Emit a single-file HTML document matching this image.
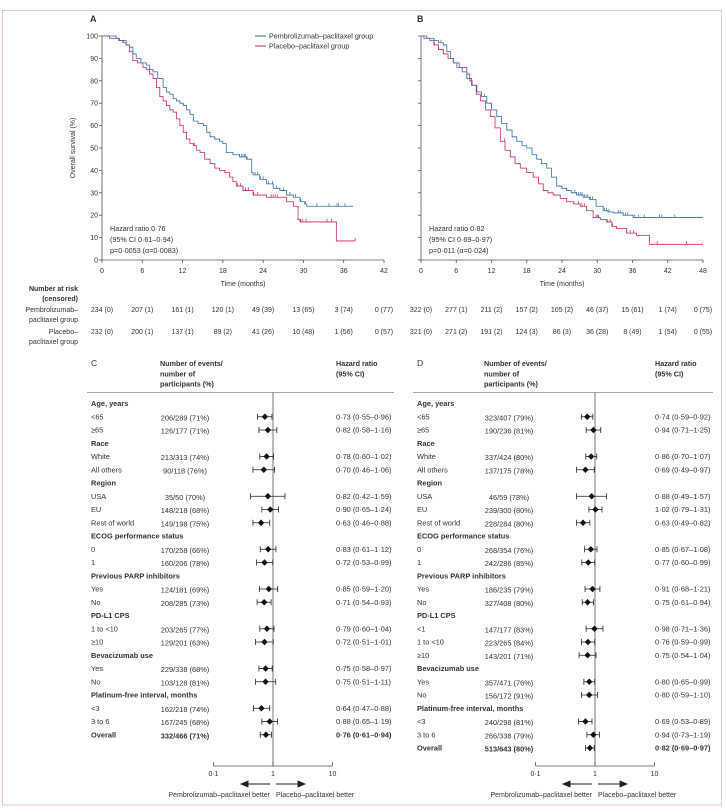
<!DOCTYPE html>
<html><head><meta charset="utf-8"><style>
html,body{margin:0;padding:0;background:#fff;}
svg{display:block;font-family:"Liberation Sans",sans-serif;}
text{fill:#333;}
.b{font-weight:bold;}
</style></head><body>
<svg id="fig" width="726" height="812" viewBox="0 0 726 812" xmlns="http://www.w3.org/2000/svg">
<rect x="2.5" y="10.5" width="719" height="794.5" fill="none" stroke="#e6c6d2" stroke-width="1"/>
<g id="kmA"></g>
<g id="kmB"></g>
<g id="risk"></g>
<g id="fC"></g>
<g id="fD"></g>
</svg>
<script>
// ---------- KM data ----------
const kmA_blue_t = [0,1.5,2.1,2.6,3.1,3.6,4.1,4.6,5.1,5.8,6.6,7.1,7.6,8.3,9.1,9.6,10.1,10.6,11.1,11.6,12.1,12.6,13.1,13.6,14.3,15.1,15.6,16.1,16.8,17.5,18.0,18.5,19.5,20.5,21.5,22.3,22.5,23.5,24.5,25.5,26.5,27.5,28.5,29.5,30.2,30.5,37.4];
const kmA_blue_s = [100,100,99,98,97,96,95,92,90,88,87,85,84,81,77,75,74,72,71,70,69,67,65,62,61,60,57,55,54,53,52,48,47,46,45,39,38,36,34,32,31,29,28,26,25,24,24];
const kmA_red_t = [0,1.1,2.5,3.6,4.1,4.6,5.3,6.1,6.6,7.1,7.6,8.1,8.6,9.1,9.6,10.1,10.6,11.1,11.6,12.1,12.6,13.1,13.6,14.1,14.6,15.3,16.1,16.8,17.5,18.3,19.0,19.5,20.0,21.0,22.5,24.5,27.5,28.5,29.2,29.5,34.9,37.7];
const kmA_red_s = [100,99,98,96,93,89,88,86,85,83,81,77,73,71,69,67,66,63,60,57,54,52,51,49,48,45,43,41,40,39,37,35,33,31,29,28,26,24,18,17,8.5,8.5];
const kmA_blue_cens = [3.2,20.5,20.8,21.0,21.2,21.4,21.6,22.8,23.2,23.6,24.0,24.8,25.4,26.0,27.0,28.0,28.8,29.6,30.3,32.0,33.8,35.0,35.2,36.2];
const kmA_red_cens = [13.8,20.2,20.6,21.0,21.4,21.8,22.6,23.2,25.2,25.5,25.8,26.1,29.6,29.9,30.4,33.5,34.2,37.7];
const kmB_blue_t = [0,1,2.2,3,3.8,4.4,5,5.5,6.1,7,7.8,8.6,9.5,10.3,11.2,12,12.9,13.7,14.6,15.5,16.3,17.2,18,18.9,19.7,20.5,21.4,22.2,23.1,24,24.8,25.6,26.5,27.6,28.7,29.8,31,31.8,32.7,34.4,36.1,48];
const kmB_blue_s = [100,99,98,97,96,93,90,88,86,84,81,78,75,73,70,67,64,61,58,55,53,51,50,47,45,43,41,37,33,32,31,30,29,28,27,24,22,21.5,21,20,19,19];
const kmB_red_t = [0,0.5,1.5,2.2,3,3.8,4.6,5.5,6.5,7.8,8.3,8.7,9.4,10.1,11,11.8,12.6,13.5,14.3,15.2,16,16.9,18,19.1,20,20.8,21.6,22.5,23.7,24.8,26,27.1,28.2,29.3,30.5,31.6,32.5,33.3,35,36.7,38.9,48];
const kmB_red_s = [100,99,98,96,94,92,90,88,86,83,80,78,74,71,67,64,59,53,49,46,43,41,39,37,34,31,30,29,27.5,26,25,24,22,19,18,17,15,14,12,11,7,7];
const kmB_blue_cens = [3.4,10.8,26.2,26.5,26.8,27.1,27.4,27.8,28.1,28.4,28.8,29.2,31.2,31.6,32.0,33.6,34.0,34.4,34.8,35.2,36.4,37.0,38.0,40.6,41.0,43.2];
const kmB_red_cens = [2.3,3.0,14.2,26.8,27.4,27.8,29.8,30.0,30.2,31.8,32.2,32.6,35.0,35.6,36.2,40.2,45.2];
const tickA = [0,6,12,18,24,30,36,42];
const tickB = [0,6,12,18,24,30,36,42,48];
const yTicks = [0,10,20,30,40,50,60,70,80,90,100];
const riskA_pem = ["234 (0)","207 (1)","161 (1)","120 (1)","49 (39)","13 (65)","3 (74)","0 (77)"];
const riskA_pla = ["232 (0)","200 (1)","137 (1)","89 (2)","41 (26)","10 (48)","1 (56)","0 (57)"];
const riskB_pem = ["322 (0)","277 (1)","211 (2)","157 (2)","105 (2)","46 (37)","15 (61)","1 (74)","0 (75)"];
const riskB_pla = ["321 (0)","271 (2)","191 (2)","124 (3)","86 (3)","36 (28)","8 (49)","1 (54)","0 (55)"];

// ---------- Forest data ----------
const fC_labels = ["Age, years","<65","≥65","Race","White","All others","Region","USA","EU","Rest of world","ECOG performance status","0","1","Previous PARP inhibitors","Yes","No","PD-L1 CPS","1 to <10","≥10","Bevacizumab use","Yes","No","Platinum-free interval, months","<3","3 to 6","Overall"];
const fC_counts = ["","206/289 (71%)","126/177 (71%)","","213/313 (74%)","90/118 (76%)","","35/50 (70%)","148/218 (68%)","149/198 (75%)","","170/258 (66%)","160/206 (78%)","","124/181 (69%)","208/285 (73%)","","203/265 (77%)","129/201 (63%)","","229/338 (68%)","103/128 (81%)","","162/218 (74%)","167/245 (68%)","332/466 (71%)"];
const fC_hr = [null,0.73,0.82,null,0.78,0.70,null,0.82,0.90,0.63,null,0.83,0.72,null,0.85,0.71,null,0.79,0.72,null,0.75,0.75,null,0.64,0.88,0.76];
const fC_lo = [null,0.55,0.58,null,0.60,0.46,null,0.42,0.65,0.46,null,0.61,0.53,null,0.59,0.54,null,0.60,0.51,null,0.58,0.51,null,0.47,0.65,0.61];
const fC_hi = [null,0.96,1.16,null,1.02,1.06,null,1.59,1.24,0.88,null,1.12,0.99,null,1.20,0.93,null,1.04,1.01,null,0.97,1.11,null,0.88,1.19,0.94];
const fD_labels = ["Age, years","<65","≥65","Race","White","All others","Region","USA","EU","Rest of world","ECOG performance status","0","1","Previous PARP inhibitors","Yes","No","PD-L1 CPS","<1","1 to <10","≥10","Bevacizumab use","Yes","No","Platinum-free interval, months","<3","3 to 6","Overall"];
const fD_counts = ["","323/407 (79%)","190/236 (81%)","","337/424 (80%)","137/175 (78%)","","46/59 (78%)","239/300 (80%)","228/284 (80%)","","268/354 (76%)","242/286 (85%)","","186/235 (79%)","327/408 (80%)","","147/177 (83%)","223/265 (84%)","143/201 (71%)","","357/471 (76%)","156/172 (91%)","","240/298 (81%)","266/338 (79%)","513/643 (80%)"];
const fD_hr = [null,0.74,0.94,null,0.86,0.69,null,0.88,1.02,0.63,null,0.85,0.77,null,0.91,0.75,null,0.98,0.76,0.75,null,0.80,0.80,null,0.69,0.94,0.82];
const fD_lo = [null,0.59,0.71,null,0.70,0.49,null,0.49,0.79,0.49,null,0.67,0.60,null,0.68,0.61,null,0.71,0.59,0.54,null,0.65,0.59,null,0.53,0.73,0.69];
const fD_hi = [null,0.92,1.25,null,1.07,0.97,null,1.57,1.31,0.82,null,1.08,0.99,null,1.21,0.94,null,1.36,0.99,1.04,null,0.99,1.10,null,0.89,1.19,0.97];
const forestTicks = [0.1,1,10];

const NS = "http://www.w3.org/2000/svg";
function mk(parent, tag, attrs, txt){
  const e = document.createElementNS(NS, tag);
  for (const k in attrs) e.setAttribute(k, attrs[k]);
  if (txt !== undefined) e.textContent = txt;
  parent.appendChild(e);
  return e;
}
const BLUE = "#2f6fa8", RED = "#c42a62", GRAY = "#555";
function fmt(v){ return v.toFixed(2).replace('.', '·'); }

function stepPath(t, s, X, Y){
  let d = "M" + X(t[0]) + "," + Y(s[0]);
  for (let i = 1; i < t.length; i++){
    d += " H" + X(t[i]) + " V" + Y(s[i]);
  }
  return d;
}
function survAt(t, s, tt){
  let v = s[0];
  for (let i = 0; i < t.length; i++){ if (t[i] <= tt) v = s[i]; }
  return v;
}

function drawKM(g, x0, x1, tmax, ticks, bt, bs, rt, rs, bc, rc, showY, letter, hr){
  const y0 = 260, y100 = 36;
  const X = v => x0 + v/tmax*(x1-x0);
  const Y = v => y0 - v/100*(y0-y100);
  let e;
  e = mk(g,'text',{x:showY?x0-12:x0-4,y:22,'font-size':9,'class':'b'},letter);
  
  
  e = mk(g,'line',{x1:x0,y1:y0,x2:x1,y2:y0,stroke:GRAY,'stroke-width':0.8});
  
  
  e = mk(g,'line',{x1:x0,y1:y0,x2:x0,y2:y100,stroke:GRAY,'stroke-width':0.8});
  
  
  ticks.forEach(tk=>{
    mk(g,'line',{x1:X(tk),y1:y0,x2:X(tk),y2:y0+3,stroke:GRAY,'stroke-width':0.8});
    e = mk(g,'text',{x:X(tk),y:273,'font-size':7,'text-anchor':'middle'},String(tk));
    
    
  });
  yTicks.forEach(tk=>{
    mk(g,'line',{x1:x0-3,y1:Y(tk),x2:x0,y2:Y(tk),stroke:GRAY,'stroke-width':0.8});
    if (showY){
      e = mk(g,'text',{x:x0-4,y:Y(tk)+2.5,'font-size':7,'text-anchor':'end'},String(tk));
      
      
    }
  });
  e = mk(g,'text',{x:(x0+x1)/2,y:286,'font-size':7,'text-anchor':'middle'},'Time (months)');
  
  
  if (showY){
    e = mk(g,'text',{x:0,y:0,'font-size':7,'text-anchor':'middle',transform:'translate(75,'+((y0+y100)/2)+') rotate(-90)'},'Overall survival (%)');
    
    
  }
  e = mk(g,'path',{d:stepPath(rt,rs,X,Y),fill:'none',stroke:RED,'stroke-width':0.8});
  
  
  e = mk(g,'path',{d:stepPath(bt,bs,X,Y),fill:'none',stroke:BLUE,'stroke-width':0.8});
  
  
  bc.forEach(c=>{
    const yy = Y(survAt(bt,bs,c));
    e = mk(g,'line',{x1:X(c),y1:yy-3,x2:X(c),y2:yy,stroke:BLUE,'stroke-width':0.7});
    
    
  });
  rc.forEach(c=>{
    const yy = Y(survAt(rt,rs,c));
    e = mk(g,'line',{x1:X(c),y1:yy-3,x2:X(c),y2:yy,stroke:RED,'stroke-width':0.7});
    
    
  });
  hr.forEach((l,i)=>{
    e = mk(g,'text',{x:x0+8,y:231+i*11,'font-size':7.2},l);
    
    
  });
  return X;
}

const XA = drawKM(document.getElementById('kmA'),102,384,42,tickA,kmA_blue_t,kmA_blue_s,kmA_red_t,kmA_red_s,kmA_blue_cens,kmA_red_cens,true,'A',
  ['Hazard ratio 0·76','(95% CI 0·61–0·94)','p=0·0053 (α=0·0083)']);
const XB = drawKM(document.getElementById('kmB'),421,703,48,tickB,kmB_blue_t,kmB_blue_s,kmB_red_t,kmB_red_s,kmB_blue_cens,kmB_red_cens,false,'B',
  ['Hazard ratio 0·82','(95% CI 0·69–0·97)','p=0·011 (α=0·024)']);

// legend
(function(){
  const g = document.getElementById('kmA');
  let e;
  e = mk(g,'line',{x1:255,y1:36,x2:266,y2:36,stroke:BLUE,'stroke-width':1});
  
  
  e = mk(g,'text',{x:269,y:38.5,'font-size':7.2},'Pembrolizumab–paclitaxel group');
  
  
  e = mk(g,'line',{x1:255,y1:46,x2:266,y2:46,stroke:RED,'stroke-width':1});
  
  
  e = mk(g,'text',{x:269,y:48.5,'font-size':7.2},'Placebo–paclitaxel group');
  
  
})();

// risk table
(function(){
  const g = document.getElementById('risk');
  let e;
  const lab = [['Number at risk',291,true],['(censored)',301,true],['Pembrolizumab–',312,false],['paclitaxel group',322,false],['Placebo–',334,false],['paclitaxel group',344,false]];
  lab.forEach(l=>{
    e = mk(g,'text',{x:78,y:l[1],'font-size':7,'text-anchor':'end','class':l[2]?'b':''},l[0]);
    
    
  });
  function row(arr, ticks, X, y){
    arr.forEach((v,i)=>{
      e = mk(g,'text',{x:X(ticks[i]),y:y,'font-size':7,'text-anchor':'middle'},v);
      
      
    });
  }
  row(riskA_pem,tickA,XA,312); row(riskA_pla,tickA,XA,334);
  row(riskB_pem,tickB,XB,312); row(riskB_pla,tickB,XB,334);
})();

function drawForest(g, letter, xl, xc, x1, xhr, labels, counts, hr, lo, hi){
  const FX = v => x1 + Math.log10(v)*59.5;
  const rowY = i => 406 + i*13.25;
  const headers = new Set(["Age, years","Race","Region","ECOG performance status","Previous PARP inhibitors","PD-L1 CPS","Bevacizumab use","Platinum-free interval, months","Overall"]);
  let e;
  e = mk(g,'text',{x:xl,y:366,'font-size':8.5},letter);
  
  
  ['Number of events/','number of','participants (%)'].forEach((t,i)=>{
    e = mk(g,'text',{x:xc-25,y:366+i*10.3,'font-size':7.2,'class':'b'},t);
    
    
  });
  ['Hazard ratio','(95% CI)'].forEach((t,i)=>{
    e = mk(g,'text',{x:xhr,y:366+i*10.3,'font-size':7.2,'class':'b'},t);
    
    
  });
  e = mk(g,'line',{x1:xl-4,y1:392.5,x2:xhr+58,y2:392.5,stroke:'#888','stroke-width':0.8});
  
  
  const axY = 766;
  e = mk(g,'line',{x1:FX(1),y1:392.5,x2:FX(1),y2:axY,stroke:'#777','stroke-width':1});
  
  
  labels.forEach((l,i)=>{
    const y = rowY(i);
    const bold = headers.has(l);
    e = mk(g,'text',{x:xl,y:y,'font-size':7.4,'class':bold?'b':''},l);
    
    
    if (counts[i]){
      e = mk(g,'text',{x:xc,y:y+1,'font-size':7.4,'text-anchor':'middle','class':l==='Overall'?'b':''},counts[i]);
      
      
    }
    if (hr[i] !== null){
      const yc = y - 2.5;
      e = mk(g,'line',{x1:FX(lo[i]),y1:yc,x2:FX(hi[i]),y2:yc,stroke:'#222','stroke-width':0.8});
      
      
      [lo[i],hi[i]].forEach(v=>{ mk(g,'line',{x1:FX(v),y1:yc-3,x2:FX(v),y2:yc+3,stroke:'#222','stroke-width':0.8}); });
      const cx = FX(hr[i]);
      e = mk(g,'path',{d:`M${cx-3.2},${yc} L${cx},${yc-3.2} L${cx+3.2},${yc} L${cx},${yc+3.2} Z`,fill:'#111'});
      
      
      e = mk(g,'text',{x:xhr,y:y,'font-size':7.4,'class':l==='Overall'?'b':''},fmt(hr[i])+' ('+fmt(lo[i])+'–'+fmt(hi[i])+')');
      
      
    }
  });
  e = mk(g,'line',{x1:FX(0.1),y1:axY,x2:FX(10),y2:axY,stroke:'#555','stroke-width':0.8});
  
  
  forestTicks.forEach(t=>{
    mk(g,'line',{x1:FX(t),y1:axY,x2:FX(t),y2:axY-4,stroke:'#555','stroke-width':0.8});
    e = mk(g,'text',{x:FX(t),y:axY+10,'font-size':7,'text-anchor':'middle'},String(t).replace('.','·'));
    
    
  });
  const ay = 784, c = FX(1);
  e = mk(g,'path',{d:`M${c-3},${ay} H${c-26} M${c-32},${ay} L${c-25},${ay-3} L${c-25},${ay+3} Z`,stroke:'#222','stroke-width':0.9,fill:'#222'});
  
  
  e = mk(g,'path',{d:`M${c+3},${ay} H${c+26} M${c+32},${ay} L${c+25},${ay-3} L${c+25},${ay+3} Z`,stroke:'#222','stroke-width':0.9,fill:'#222'});
  
  
  e = mk(g,'text',{x:c-3,y:797,'font-size':7,'text-anchor':'end'},'Pembrolizumab–paclitaxel better');
  
  
  e = mk(g,'text',{x:c+3,y:797,'font-size':7},'Placebo–paclitaxel better');
  
  
}
drawForest(document.getElementById('fC'),'C',91,185,273,336,fC_labels,fC_counts,fC_hr,fC_lo,fC_hi);
drawForest(document.getElementById('fD'),'D',417,509,595,655,fD_labels,fD_counts,fD_hr,fD_lo,fD_hi);
</script>
</body></html>
